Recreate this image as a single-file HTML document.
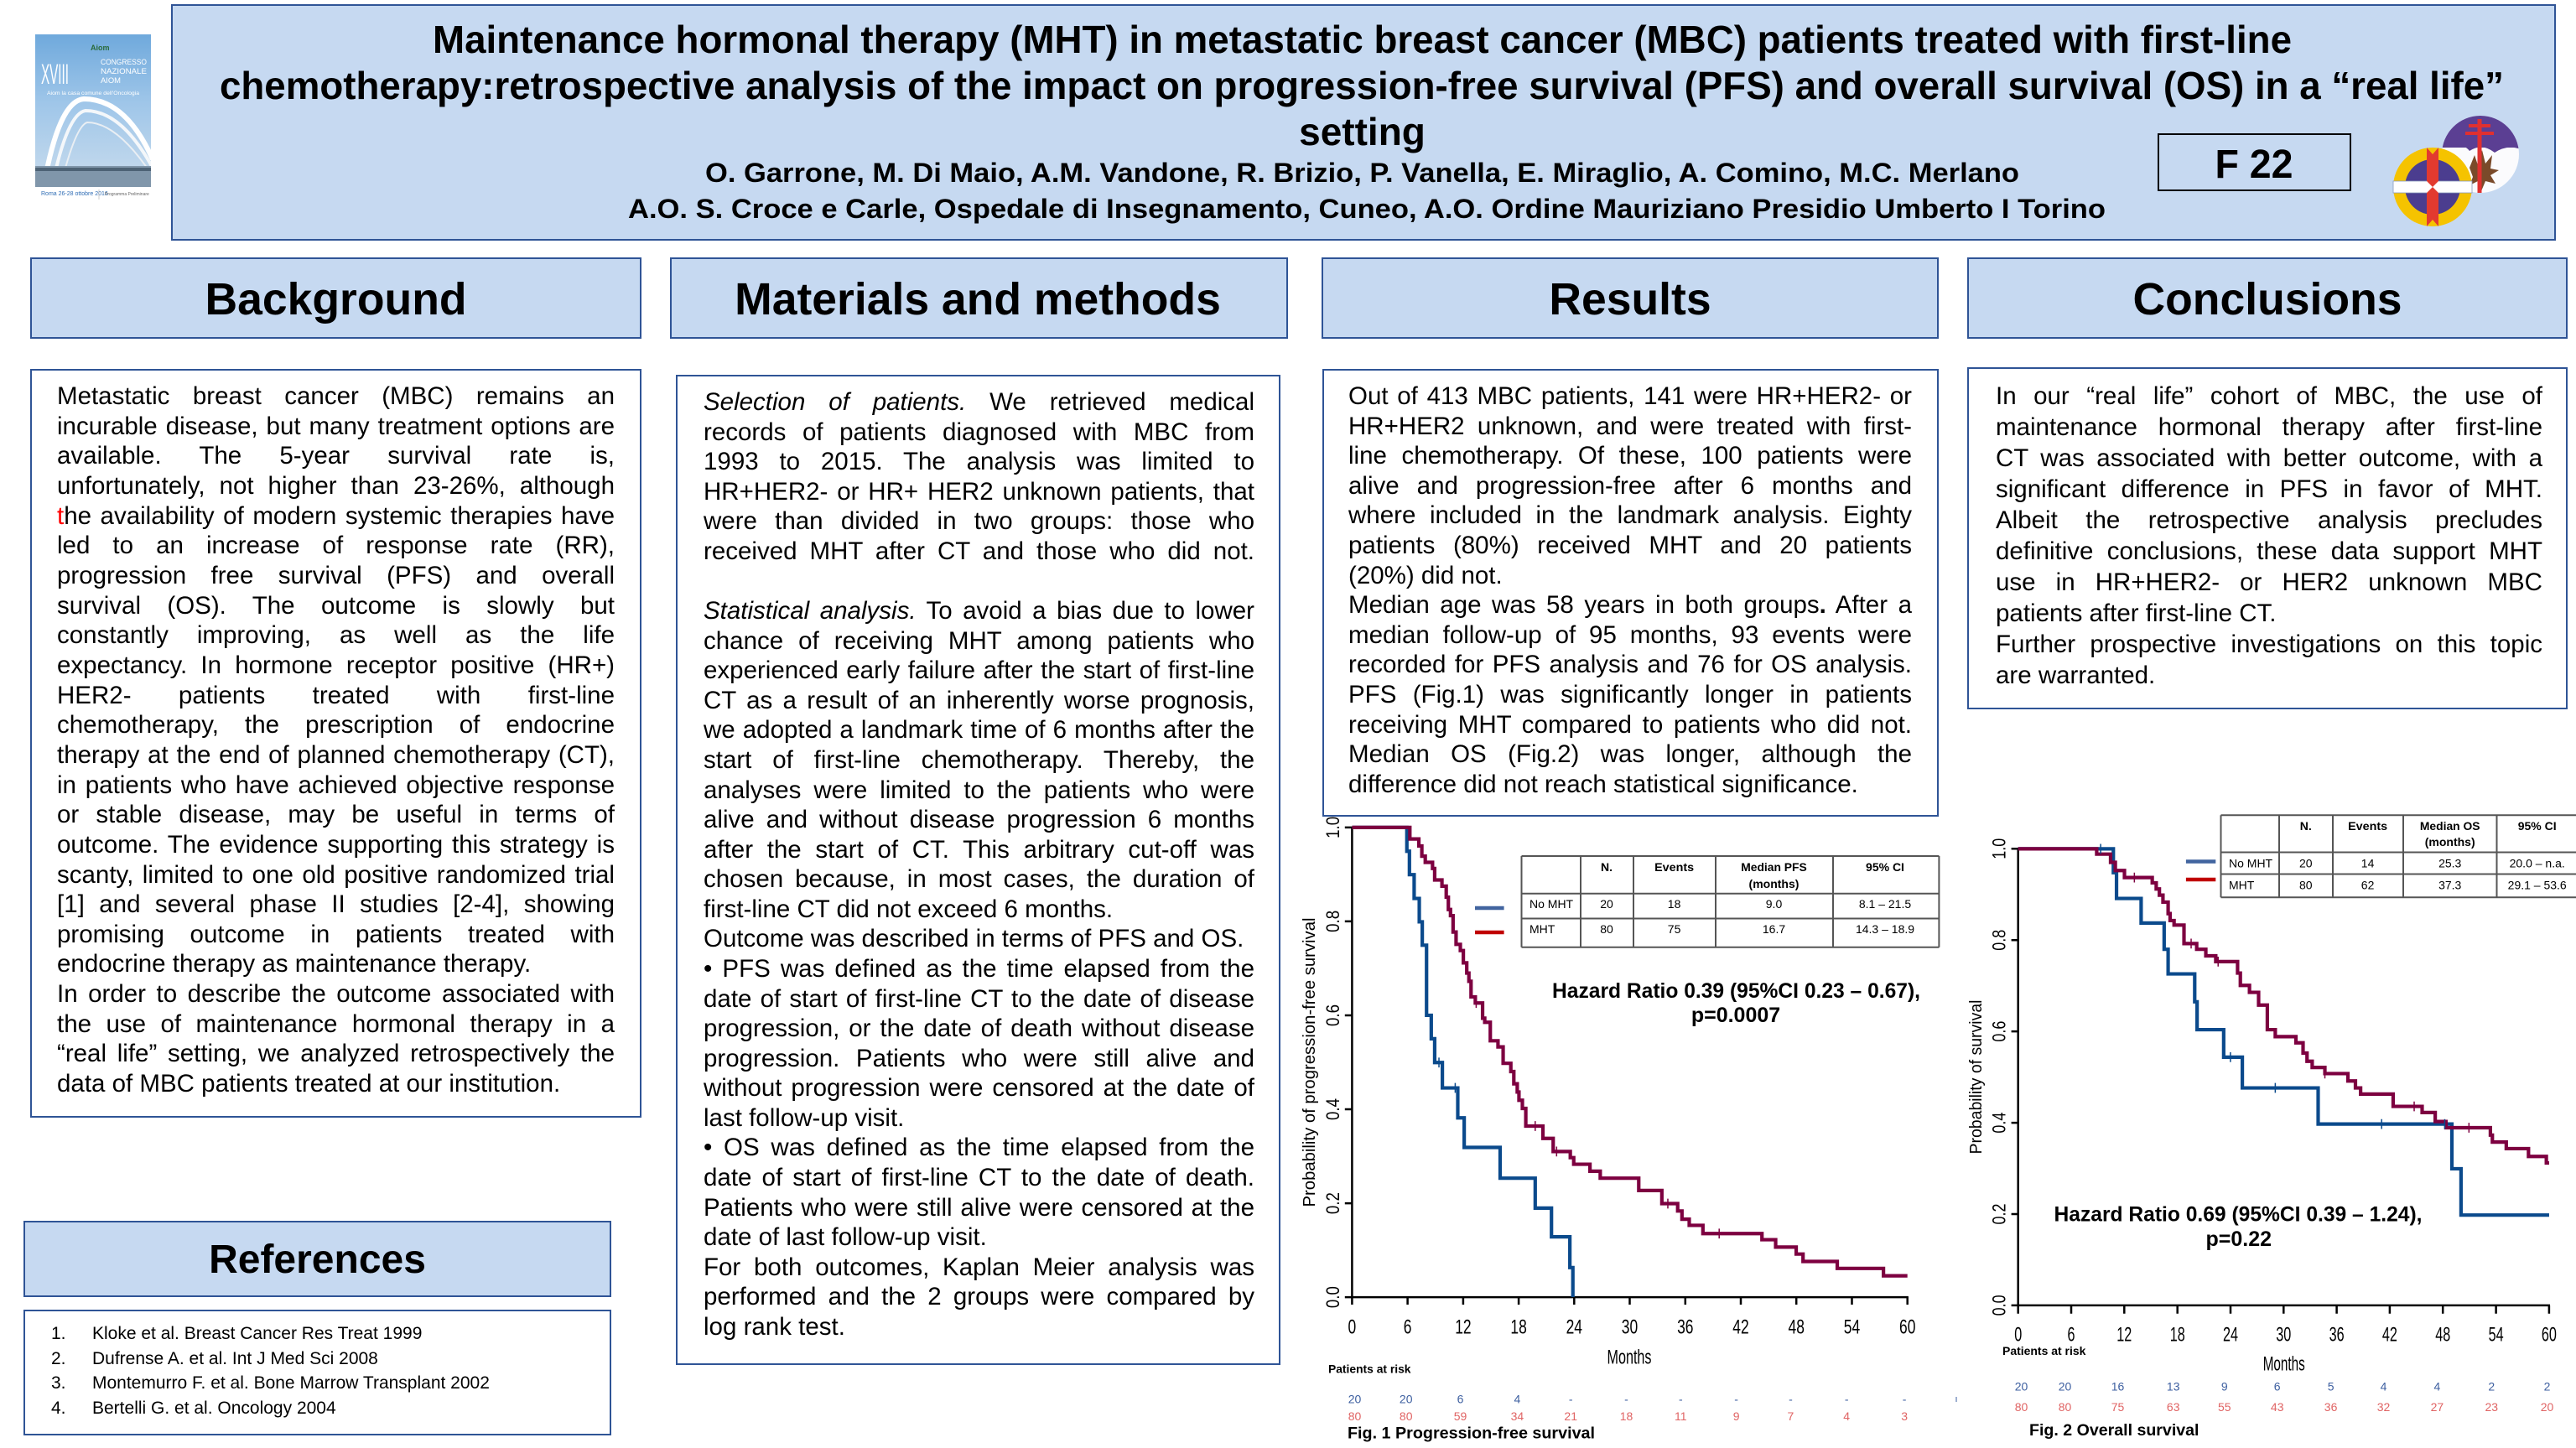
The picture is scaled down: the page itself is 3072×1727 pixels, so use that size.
<!DOCTYPE html>
<html><head><meta charset="utf-8">
<style>
html,body{margin:0;padding:0;background:#fff;}
body{width:3072px;height:1727px;position:relative;overflow:hidden;font-family:"Liberation Sans",Arial,sans-serif;color:#000;}
.box{position:absolute;box-sizing:border-box;}
.hb{background:#c6d9f1;border:2px solid #2f5496;}
.tb{background:#fff;border:2px solid #2f5496;}
.col{position:absolute;font-size:29.5px;}
.j{text-align:justify;text-align-last:justify;}
.ref{position:absolute;font-size:21px;line-height:29.7px;}
.ref span{display:inline-block;width:49px;}
svg{position:absolute;left:0;top:0;}
</style></head><body>

<div class="box hb" style="left:204px;top:5px;width:2844px;height:282px;"></div>
<div class="box" style="left:2573px;top:159px;width:231px;height:69px;border:2px solid #000;"></div>

<div class="box hb" style="left:36px;top:307px;width:729px;height:97px;"></div>
<div class="box hb" style="left:799px;top:307px;width:737px;height:97px;"></div>
<div class="box hb" style="left:1576px;top:307px;width:736px;height:97px;"></div>
<div class="box hb" style="left:2346px;top:307px;width:716px;height:97px;"></div>

<div class="box tb" style="left:36px;top:440px;width:729px;height:893px;"></div>
<div class="box tb" style="left:806px;top:447px;width:721px;height:1181px;"></div>
<div class="box tb" style="left:1577px;top:440px;width:735px;height:534px;"></div>
<div class="box tb" style="left:2346px;top:438px;width:716px;height:408px;"></div>

<div class="box hb" style="left:28px;top:1456px;width:701px;height:91px;"></div>
<div class="box tb" style="left:28px;top:1562px;width:701px;height:150px;"></div>

<!-- Background -->
<div class="col" style="left:68px;top:455px;width:665px;line-height:35.65px;">
<div class="j">Metastatic breast cancer (MBC) remains an</div>
<div class="j">incurable disease, but many treatment options are</div>
<div class="j">available. The 5-year survival rate is,</div>
<div class="j">unfortunately, not higher than 23-26%, although</div>
<div class="j"><span style="color:#ff0000">t</span>he availability of modern systemic therapies have</div>
<div class="j">led to an increase of response rate (RR),</div>
<div class="j">progression free survival (PFS) and overall</div>
<div class="j">survival (OS). The outcome is slowly but</div>
<div class="j">constantly improving, as well as the life</div>
<div class="j">expectancy. In hormone receptor positive (HR+)</div>
<div class="j">HER2- patients treated with first-line</div>
<div class="j">chemotherapy, the prescription of endocrine</div>
<div class="j">therapy at the end of planned chemotherapy (CT),</div>
<div class="j">in patients who have achieved objective response</div>
<div class="j">or stable disease, may be useful in terms of</div>
<div class="j">outcome. The evidence supporting this strategy is</div>
<div class="j">scanty, limited to one old positive randomized trial</div>
<div class="j">[1] and several phase II studies [2-4], showing</div>
<div class="j">promising outcome in patients treated with</div>
<div>endocrine therapy as maintenance therapy.</div>
<div class="j">In order to describe the outcome associated with</div>
<div class="j">the use of maintenance hormonal therapy in a</div>
<div class="j">“real life” setting, we analyzed retrospectively the</div>
<div>data of MBC patients treated at our institution.</div>
</div>

<!-- Methods -->
<div class="col" style="left:839px;top:462px;width:657px;line-height:35.58px;">
<div class="j"><i>Selection of patients.</i> We retrieved medical</div>
<div class="j">records of patients diagnosed with MBC from</div>
<div class="j">1993 to 2015. The analysis was limited to</div>
<div class="j">HR+HER2- or HR+ HER2 unknown patients, that</div>
<div class="j">were than divided in two groups: those who</div>
<div class="j">received MHT after CT and those who did not.</div>
<div style="height:35.58px"></div>
<div class="j"><i>Statistical analysis.</i> To avoid a bias due to lower</div>
<div class="j">chance of receiving MHT among patients who</div>
<div class="j">experienced early failure after the start of first-line</div>
<div class="j">CT as a result of an inherently worse prognosis,</div>
<div class="j">we adopted a landmark time of 6 months after the</div>
<div class="j">start of first-line chemotherapy. Thereby, the</div>
<div class="j">analyses were limited to the patients who were</div>
<div class="j">alive and without disease progression 6 months</div>
<div class="j">after the start of CT. This arbitrary cut-off was</div>
<div class="j">chosen because, in most cases, the duration of</div>
<div>first-line CT did not exceed 6 months.</div>
<div>Outcome was described in terms of PFS and OS.</div>
<div class="j">• PFS was defined as the time elapsed from the</div>
<div class="j">date of start of first-line CT to the date of disease</div>
<div class="j">progression, or the date of death without disease</div>
<div class="j">progression. Patients who were still alive and</div>
<div class="j">without progression were censored at the date of</div>
<div>last follow-up visit.</div>
<div class="j">• OS was defined as the time elapsed from the</div>
<div class="j">date of start of first-line CT to the date of death.</div>
<div class="j">Patients who were still alive were censored at the</div>
<div>date of last follow-up visit.</div>
<div class="j">For both outcomes, Kaplan Meier analysis was</div>
<div class="j">performed and the 2 groups were compared by</div>
<div>log rank test.</div>
</div>

<!-- Results -->
<div class="col" style="left:1608px;top:455px;width:672px;line-height:35.6px;">
<div class="j">Out of 413 MBC patients, 141 were HR+HER2- or</div>
<div class="j">HR+HER2 unknown, and were treated with first-</div>
<div class="j">line chemotherapy. Of these, 100 patients were</div>
<div class="j">alive and progression-free after 6 months and</div>
<div class="j">where included in the landmark analysis. Eighty</div>
<div class="j">patients (80%) received MHT and 20 patients</div>
<div>(20%) did not.</div>
<div class="j">Median age was 58 years in both groups<b>.</b> After a</div>
<div class="j">median follow-up of 95 months, 93 events were</div>
<div class="j">recorded for PFS analysis and 76 for OS analysis.</div>
<div class="j">PFS (Fig.1) was significantly longer in patients</div>
<div class="j">receiving MHT compared to patients who did not.</div>
<div class="j">Median OS (Fig.2) was longer, although the</div>
<div>difference did not reach statistical significance.</div>
</div>

<!-- Conclusions -->
<div class="col" style="left:2380px;top:454px;width:652px;line-height:37px;">
<div class="j">In our “real life” cohort of MBC, the use of</div>
<div class="j">maintenance hormonal therapy after first-line</div>
<div class="j">CT was associated with better outcome, with a</div>
<div class="j">significant difference in PFS in favor of MHT.</div>
<div class="j">Albeit the retrospective analysis precludes</div>
<div class="j">definitive conclusions, these data support MHT</div>
<div class="j">use in HR+HER2- or HER2 unknown MBC</div>
<div>patients after first-line CT.</div>
<div class="j">Further prospective investigations on this topic</div>
<div>are warranted.</div>
</div>

<!-- References -->
<div class="ref" style="left:61px;top:1576px;">
<div><span>1.</span>Kloke et al. Breast Cancer Res Treat 1999</div>
<div><span>2.</span>Dufrense A. et al. Int J Med Sci 2008</div>
<div><span>3.</span>Montemurro F. et al. Bone Marrow Transplant 2002</div>
<div><span>4.</span>Bertelli G. et al. Oncology 2004</div>
</div>

<svg width="3072" height="1727" viewBox="0 0 3072 1727" font-family="Liberation Sans, Arial, sans-serif">
<defs>
<linearGradient id="sky" x1="0" y1="0" x2="0" y2="1">
<stop offset="0" stop-color="#6fa9dc"/><stop offset="0.45" stop-color="#9fc6e9"/><stop offset="1" stop-color="#c9dced"/>
</linearGradient>
<clipPath id="lg"><rect x="42" y="41" width="138" height="182"/></clipPath>
<clipPath id="c2"><circle cx="2958" cy="184" r="46"/></clipPath>
</defs>

<!-- AIOM logo -->
<rect x="42" y="41" width="138" height="182" fill="url(#sky)"/>
<g clip-path="url(#lg)">
<path d="M52,223 Q70,120 100,118 Q150,118 182,190" fill="none" stroke="#fff" stroke-width="6"/>
<path d="M62,223 Q80,135 102,132 Q145,132 182,200" fill="none" stroke="#f4f7fa" stroke-width="4"/>
<path d="M72,223 Q90,150 104,146 Q140,146 182,210" fill="none" stroke="#e9eef3" stroke-width="2"/>
<rect x="42" y="198" width="138" height="25" fill="#8096aa"/>
<rect x="42" y="200" width="138" height="4" fill="#4d6275"/>
</g>
<text x="49" y="100" font-size="34" fill="#fff" textLength="33" lengthAdjust="spacingAndGlyphs">XVIII</text>
<text x="120" y="77" font-size="9" fill="#fff" textLength="55" lengthAdjust="spacingAndGlyphs">CONGRESSO</text>
<text x="120" y="88" font-size="9" fill="#fff" textLength="55" lengthAdjust="spacingAndGlyphs">NAZIONALE</text>
<text x="120" y="99" font-size="9" fill="#fff" textLength="24" lengthAdjust="spacingAndGlyphs">AIOM</text>
<text x="56" y="113" font-size="6" fill="#fff" textLength="110" lengthAdjust="spacingAndGlyphs">Aiom la casa comune dell'Oncologia</text>
<text x="108" y="60" font-size="9" fill="#2a6a3a" font-weight="bold">Aiom</text>
<text x="49" y="233" font-size="7" fill="#2f6db5">Roma 26-28 ottobre 2016</text>
<text x="125" y="233" font-size="5" fill="#666">Programma Preliminare</text>
<line x1="118" y1="226" x2="118" y2="238" stroke="#aaa" stroke-width="0.6"/>

<!-- Title -->
<g font-weight="bold" text-anchor="middle" fill="#000">
<text x="1624.5" y="63" font-size="46" textLength="2217" lengthAdjust="spacingAndGlyphs">Maintenance hormonal therapy (MHT) in metastatic breast cancer (MBC) patients treated with first-line</text>
<text x="1624" y="118" font-size="46" textLength="2724" lengthAdjust="spacingAndGlyphs">chemotherapy:retrospective analysis of the impact on progression-free survival (PFS) and overall survival (OS) in a “real life”</text>
<text x="1624.5" y="173" font-size="46">setting</text>
<text x="1624.5" y="217" font-size="32" textLength="1567" lengthAdjust="spacingAndGlyphs">O. Garrone, M. Di Maio, A.M. Vandone, R. Brizio, P. Vanella, E. Miraglio, A. Comino, M.C. Merlano</text>
<text x="1630" y="260" font-size="32" textLength="1762" lengthAdjust="spacingAndGlyphs">A.O. S. Croce e Carle, Ospedale di Insegnamento, Cuneo, A.O. Ordine Mauriziano Presidio Umberto I Torino</text>
<text x="2688" y="212" font-size="48" textLength="93" lengthAdjust="spacingAndGlyphs">F 22</text>
</g>

<!-- right logos -->
<g clip-path="url(#c2)">
<rect x="2910" y="136" width="100" height="100" fill="#fbfbfd"/>
<rect x="2910" y="136" width="100" height="40" fill="#5b3f93"/>
<path d="M2918,176 Q2935,168 2945,180 Q2960,170 2975,182 Q2990,172 3006,178 L3006,176 Z" fill="#5b3f93"/>
<path d="M2945,200 l6,-15 l4,12 l5,-18 l4,16 l8,-10 l-2,16 l10,2 l-10,6 l6,10 l-12,-3 l-5,12 l-4,-12 l-10,5 l4,-10 z" fill="#7a4a2a"/>
</g>
<rect x="2954.5" y="142" width="5" height="88" fill="#e03030"/>
<rect x="2944" y="148" width="26" height="4" fill="#e03030"/>
<rect x="2940" y="157" width="34" height="4" fill="#e03030"/>
<circle cx="2901" cy="223" r="47" fill="#f5c300"/>
<circle cx="2901" cy="223" r="33" fill="#4b3d8f"/>
<rect x="2854" y="216" width="94" height="14" fill="#fff" stroke="#8899bb" stroke-width="0.8"/>
<path d="M2894,176 L2901,184 L2908,176 L2908,270 L2901,262 L2894,270 Z" fill="#e23a2f"/>
<path d="M2894,216 L2901,223 L2908,216 L2908,230 L2901,223 L2894,230 Z" fill="#fff"/>

<!-- Section titles -->
<g font-weight="bold" text-anchor="middle" fill="#000">
<text x="400.5" y="375" font-size="53.5">Background</text>
<text x="1166" y="375" font-size="53.5">Materials and methods</text>
<text x="1944" y="375" font-size="53.5">Results</text>
<text x="2704" y="375" font-size="53.5">Conclusions</text>
<text x="378.5" y="1518" font-size="48">References</text>
</g>

<!-- ================= FIG 1 ================= -->
<g stroke="#000" stroke-width="2.5" fill="none">
<line x1="1612.4" y1="986" x2="1612.4" y2="1548"/>
<line x1="1611" y1="1547.1" x2="2275.9" y2="1547.1"/>
<path d="M1603.8,986.9H1612.4M1603.8,1098.9H1612.4M1603.8,1211H1612.4M1603.8,1323H1612.4M1603.8,1435.1H1612.4M1603.8,1547.1H1612.4"/>
<path d="M1612.4,1547V1556M1678.6,1547V1556M1744.9,1547V1556M1811.1,1547V1556M1877.3,1547V1556M1943.5,1547V1556M2009.8,1547V1556M2076,1547V1556M2142.2,1547V1556M2208.5,1547V1556M2274.7,1547V1556"/>
</g>
<g font-size="24" text-anchor="middle" lengthAdjust="spacingAndGlyphs">
<text x="1612.4" y="1590.5" textLength="9.7" lengthAdjust="spacingAndGlyphs">0</text>
<text x="1678.6" y="1590.5" textLength="9.7" lengthAdjust="spacingAndGlyphs">6</text>
<text x="1744.9" y="1590.5" textLength="19.4" lengthAdjust="spacingAndGlyphs">12</text>
<text x="1811.1" y="1590.5" textLength="19.4" lengthAdjust="spacingAndGlyphs">18</text>
<text x="1877.3" y="1590.5" textLength="19.4" lengthAdjust="spacingAndGlyphs">24</text>
<text x="1943.5" y="1590.5" textLength="19.4" lengthAdjust="spacingAndGlyphs">30</text>
<text x="2009.8" y="1590.5" textLength="19.4" lengthAdjust="spacingAndGlyphs">36</text>
<text x="2076" y="1590.5" textLength="19.4" lengthAdjust="spacingAndGlyphs">42</text>
<text x="2142.2" y="1590.5" textLength="19.4" lengthAdjust="spacingAndGlyphs">48</text>
<text x="2208.5" y="1590.5" textLength="19.4" lengthAdjust="spacingAndGlyphs">54</text>
<text x="2274.7" y="1590.5" textLength="19.4" lengthAdjust="spacingAndGlyphs">60</text>
<text x="1943" y="1626.5" textLength="53" lengthAdjust="spacingAndGlyphs">Months</text>
</g>
<g font-size="22" text-anchor="middle">
<text transform="translate(1597,1547.1) rotate(-90)" textLength="26" lengthAdjust="spacingAndGlyphs">0.0</text>
<text transform="translate(1597,1435.1) rotate(-90)" textLength="26" lengthAdjust="spacingAndGlyphs">0.2</text>
<text transform="translate(1597,1323) rotate(-90)" textLength="26" lengthAdjust="spacingAndGlyphs">0.4</text>
<text transform="translate(1597,1211) rotate(-90)" textLength="26" lengthAdjust="spacingAndGlyphs">0.6</text>
<text transform="translate(1597,1098.9) rotate(-90)" textLength="26" lengthAdjust="spacingAndGlyphs">0.8</text>
<text transform="translate(1597,986.9) rotate(-90)" textLength="26" lengthAdjust="spacingAndGlyphs">1.0</text>
</g>
<text transform="translate(1568,1267) rotate(-90)" text-anchor="middle" font-size="20" textLength="345" lengthAdjust="spacingAndGlyphs">Probability of progression-free survival</text>

<g transform="translate(1540,960) scale(0.5102,0.4892)" fill="none" stroke-linejoin="miter">
<path vector-effect="non-scaling-stroke" stroke="#0b4a8c" stroke-width="4.2" d="M142,55 H270 V113 H276 V170 H287 V228 H299 V285 H306 V342 H316 V513 H327 V570 H335 V628 H353 V690 H389 V763 H404 V835 H488 V910 H570 V983 H608 V1053 H651 V1128 H658 V1200"/>
<path vector-effect="non-scaling-stroke" stroke="#7d0040" stroke-width="4.2" d="M142,55 H277 V83 H298 V100 H305 V125 H313 V140 H330 V155 H335 V183 H352 V198 H362 V225 H367 V255 H372 V270 H378 V310 H385 V340 H395 V355 H402 V385 H410 V410 H415 V430 H420 V468 H430 V483 H447 V520 H452 V530 H465 V575 H483 V590 H495 V630 H513 V650 H520 V680 H528 V700 H532 V720 H540 V740 H548 V783 H588 V813 H612 V845 H652 V860 H660 V876 H698 V893 H722 V910 H812 V940 H866 V972 H903 V990 H913 V1010 H930 V1025 H962 V1045 H1100 V1060 H1132 V1078 H1180 V1095 H1196 V1113 H1276 V1130 H1384 V1148 H1440"/>
<path vector-effect="non-scaling-stroke" stroke="#0b4a8c" stroke-width="1.5" d="M345,616V640M383,678V702"/>
<path vector-effect="non-scaling-stroke" stroke="#7d0040" stroke-width="1.5" d="M432,471V495M570,771V795M620,833V857M880,960V984M1000,1033V1057"/>
</g>

<line x1="1759" y1="1083" x2="1793.6" y2="1083" stroke="#41649f" stroke-width="4.5"/>
<line x1="1759" y1="1112" x2="1793.6" y2="1112" stroke="#c00000" stroke-width="4.5"/>

<g stroke="#555" stroke-width="2" fill="none">
<path d="M1814.5,1021H2312.4M1814.5,1065.7H2312.4M1814.5,1095.5H2312.4M1814.5,1129.8H2312.4"/>
<path d="M1814.5,1021V1129.8M1885,1021V1129.8M1948,1021V1129.8M2046,1021V1129.8M2186,1021V1129.8M2312.4,1021V1129.8"/>
</g>
<g font-size="14" fill="#000" text-anchor="middle">
<g font-weight="bold">
<text x="1916" y="1039">N.</text>
<text x="1996.6" y="1039" textLength="47" lengthAdjust="spacingAndGlyphs">Events</text>
<text x="2115.5" y="1039" textLength="78.6" lengthAdjust="spacingAndGlyphs">Median PFS</text>
<text x="2115.5" y="1059">(months)</text>
<text x="2248" y="1039">95% CI</text>
</g>
<text x="1824" y="1083" text-anchor="start">No MHT</text>
<text x="1916" y="1083">20</text><text x="1996.6" y="1083">18</text><text x="2115.5" y="1083">9.0</text><text x="2248" y="1083">8.1 – 21.5</text>
<text x="1824" y="1113" text-anchor="start">MHT</text>
<text x="1916" y="1113">80</text><text x="1996.6" y="1113">75</text><text x="2115.5" y="1113">16.7</text><text x="2248" y="1113">14.3 – 18.9</text>
</g>

<g font-weight="bold" font-size="25" text-anchor="middle">
<text x="2070.5" y="1190" textLength="439" lengthAdjust="spacingAndGlyphs">Hazard Ratio 0.39 (95%CI  0.23 – 0.67),</text>
<text x="2070" y="1219">p=0.0007</text>
</g>

<text x="1584" y="1637.7" font-size="14" font-weight="bold" textLength="98.5" lengthAdjust="spacingAndGlyphs">Patients at risk</text>
<g font-size="14" text-anchor="middle" fill="#3d5fa0">
<text x="1615.5" y="1673.5">20</text><text x="1676.7" y="1673.5">20</text><text x="1741.5" y="1673.5">6</text><text x="1809.4" y="1673.5">4</text><text x="1873.2" y="1673.5">-</text><text x="1939.5" y="1673.5">-</text><text x="2004.3" y="1673.5">-</text><text x="2070.6" y="1673.5">-</text><text x="2135.4" y="1673.5">-</text><text x="2202.2" y="1673.5">-</text><text x="2271.1" y="1673.5">-</text>
</g>
<g font-size="14" text-anchor="middle" fill="#e06464">
<text x="1615.5" y="1694">80</text><text x="1676.7" y="1694">80</text><text x="1741.5" y="1694">59</text><text x="1809.4" y="1694">34</text><text x="1873.2" y="1694">21</text><text x="1939.5" y="1694">18</text><text x="2004.3" y="1694">11</text><text x="2070.6" y="1694">9</text><text x="2135.4" y="1694">7</text><text x="2202.2" y="1694">4</text><text x="2271.1" y="1694">3</text>
</g>
<text x="1607" y="1715.5" font-size="19.7" font-weight="bold" textLength="295" lengthAdjust="spacingAndGlyphs">Fig. 1 Progression-free survival</text>

<!-- ================= FIG 2 ================= -->
<g stroke="#000" stroke-width="2.5" fill="none">
<line x1="2406.7" y1="1011.5" x2="2406.7" y2="1558"/>
<line x1="2405.5" y1="1556.9" x2="3041" y2="1556.9"/>
<path d="M2398.6,1012.3H2406.7M2398.6,1121.2H2406.7M2398.6,1230.1H2406.7M2398.6,1339.1H2406.7M2398.6,1448H2406.7M2398.6,1556.9H2406.7"/>
<path d="M2406.7,1556.9V1566.7M2470,1556.9V1566.7M2533.3,1556.9V1566.7M2596.7,1556.9V1566.7M2660,1556.9V1566.7M2723.3,1556.9V1566.7M2786.6,1556.9V1566.7M2849.9,1556.9V1566.7M2913.2,1556.9V1566.7M2976.6,1556.9V1566.7M3039.9,1556.9V1566.7"/>
</g>
<g font-size="24" text-anchor="middle">
<text x="2406.7" y="1599.5" textLength="9" lengthAdjust="spacingAndGlyphs">0</text>
<text x="2470" y="1599.5" textLength="9" lengthAdjust="spacingAndGlyphs">6</text>
<text x="2533.3" y="1599.5" textLength="18" lengthAdjust="spacingAndGlyphs">12</text>
<text x="2596.7" y="1599.5" textLength="18" lengthAdjust="spacingAndGlyphs">18</text>
<text x="2660" y="1599.5" textLength="18" lengthAdjust="spacingAndGlyphs">24</text>
<text x="2723.3" y="1599.5" textLength="18" lengthAdjust="spacingAndGlyphs">30</text>
<text x="2786.6" y="1599.5" textLength="18" lengthAdjust="spacingAndGlyphs">36</text>
<text x="2849.9" y="1599.5" textLength="18" lengthAdjust="spacingAndGlyphs">42</text>
<text x="2913.2" y="1599.5" textLength="18" lengthAdjust="spacingAndGlyphs">48</text>
<text x="2976.6" y="1599.5" textLength="18" lengthAdjust="spacingAndGlyphs">54</text>
<text x="3039.9" y="1599.5" textLength="18" lengthAdjust="spacingAndGlyphs">60</text>
<text x="2723.7" y="1634.5" textLength="50" lengthAdjust="spacingAndGlyphs">Months</text>
</g>
<g font-size="22" text-anchor="middle">
<text transform="translate(2391.5,1556.9) rotate(-90)" textLength="25" lengthAdjust="spacingAndGlyphs">0.0</text>
<text transform="translate(2391.5,1448) rotate(-90)" textLength="25" lengthAdjust="spacingAndGlyphs">0.2</text>
<text transform="translate(2391.5,1339.1) rotate(-90)" textLength="25" lengthAdjust="spacingAndGlyphs">0.4</text>
<text transform="translate(2391.5,1230.1) rotate(-90)" textLength="25" lengthAdjust="spacingAndGlyphs">0.6</text>
<text transform="translate(2391.5,1121.2) rotate(-90)" textLength="25" lengthAdjust="spacingAndGlyphs">0.8</text>
<text transform="translate(2391.5,1012.3) rotate(-90)" textLength="25" lengthAdjust="spacingAndGlyphs">1.0</text>
</g>
<text transform="translate(2363,1284.5) rotate(-90)" text-anchor="middle" font-size="20" textLength="184" lengthAdjust="spacingAndGlyphs">Probability of survival</text>

<g transform="translate(2330,960) scale(0.4733,0.4892)" fill="none">
<path vector-effect="non-scaling-stroke" stroke="#0b4a8c" stroke-width="4.2" d="M162,107 H402 V165 H410 V228 H472 V288 H530 V352 H540 V412 H607 V480 H613 V548 H680 V615 H727 V690 H918 V778 H1255 V887 H1278 V1000 H1500"/>
<path vector-effect="non-scaling-stroke" stroke="#7d0040" stroke-width="4.2" d="M162,107 H360 V120 H395 V140 H407 V160 H430 V177 H500 V190 H510 V205 H518 V220 H527 V237 H540 V265 H545 V282 H555 V293 H580 V338 H612 V352 H635 V368 H660 V382 H715 V410 H722 V440 H745 V457 H768 V488 H790 V548 H810 V565 H862 V580 H880 V605 H890 V625 H903 V640 H935 V655 H993 V673 H1012 V690 H1025 V705 H1107 V735 H1180 V750 H1213 V772 H1240 V787 H1352 V805 H1357 V822 H1392 V838 H1448 V857 H1493 V873 H1500"/>
<path vector-effect="non-scaling-stroke" stroke="#0b4a8c" stroke-width="1.5" d="M370,95V119M697,603V627M810,678V702M1078,766V790M1237,766V790"/>
<path vector-effect="non-scaling-stroke" stroke="#7d0040" stroke-width="1.5" d="M455,165V189M598,326V350M666,370V394M935,643V667M1160,723V747M1298,775V799"/>
</g>

<line x1="2606.9" y1="1027.5" x2="2642.3" y2="1027.5" stroke="#41649f" stroke-width="4.5"/>
<line x1="2606.9" y1="1049" x2="2642.3" y2="1049" stroke="#c00000" stroke-width="4.5"/>

<g stroke="#555" stroke-width="2" fill="none">
<path d="M2648.5,972.2H3072M2648.5,1016.5H3072M2648.5,1042.5H3072M2648.5,1070.3H3072"/>
<path d="M2648.5,972.2V1070.3M2718,972.2V1070.3M2782,972.2V1070.3M2866,972.2V1070.3M2977.5,972.2V1070.3"/>
</g>
<g font-size="14" fill="#000" text-anchor="middle">
<g font-weight="bold">
<text x="2749.8" y="990">N.</text>
<text x="2823.6" y="990" textLength="47" lengthAdjust="spacingAndGlyphs">Events</text>
<text x="2921.7" y="990" textLength="71.7" lengthAdjust="spacingAndGlyphs">Median OS</text>
<text x="2921.7" y="1009">(months)</text>
<text x="3025.7" y="990">95% CI</text>
</g>
<text x="2658" y="1034.5" text-anchor="start">No MHT</text>
<text x="2749.8" y="1034.5">20</text><text x="2823.6" y="1034.5">14</text><text x="2921.7" y="1034.5">25.3</text><text x="3025.7" y="1034.5">20.0 – n.a.</text>
<text x="2658" y="1060.5" text-anchor="start">MHT</text>
<text x="2749.8" y="1060.5">80</text><text x="2823.6" y="1060.5">62</text><text x="2921.7" y="1060.5">37.3</text><text x="3025.7" y="1060.5">29.1 – 53.6</text>
</g>

<g font-weight="bold" font-size="25" text-anchor="middle">
<text x="2669" y="1456.6" textLength="439" lengthAdjust="spacingAndGlyphs">Hazard Ratio 0.69 (95%CI  0.39 – 1.24),</text>
<text x="2669.8" y="1486">p=0.22</text>
</g>

<text x="2388" y="1616" font-size="14" font-weight="bold" textLength="99.4" lengthAdjust="spacingAndGlyphs">Patients at risk</text>
<g font-size="14" text-anchor="middle" fill="#3d5fa0">
<text x="2410.5" y="1658.5">20</text><text x="2462.5" y="1658.5">20</text><text x="2525.5" y="1658.5">16</text><text x="2591.7" y="1658.5">13</text><text x="2652.8" y="1658.5">9</text><text x="2715.7" y="1658.5">6</text><text x="2779.6" y="1658.5">5</text><text x="2842.5" y="1658.5">4</text><text x="2906.4" y="1658.5">4</text><text x="2971.3" y="1658.5">2</text><text x="3037.5" y="1658.5">2</text>
</g>
<g font-size="14" text-anchor="middle" fill="#e06464">
<text x="2410.5" y="1683">80</text><text x="2462.5" y="1683">80</text><text x="2525.5" y="1683">75</text><text x="2591.7" y="1683">63</text><text x="2652.8" y="1683">55</text><text x="2715.7" y="1683">43</text><text x="2779.6" y="1683">36</text><text x="2842.5" y="1683">32</text><text x="2906.4" y="1683">27</text><text x="2971.3" y="1683">23</text><text x="3037.5" y="1683">20</text>
</g>
<text x="2420" y="1712" font-size="19.7" font-weight="bold" textLength="202.5" lengthAdjust="spacingAndGlyphs">Fig. 2 Overall survival</text>
<line x1="2333" y1="1666" x2="2333" y2="1672" stroke="#3d5fa0" stroke-width="1"/>
</svg>
</body></html>
